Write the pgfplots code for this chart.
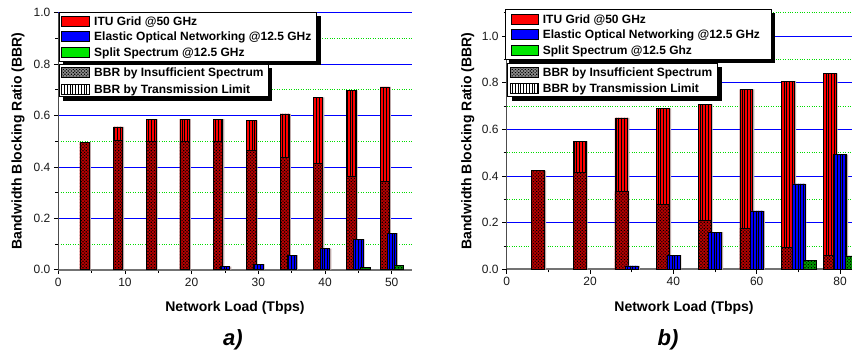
\documentclass[border=0pt]{standalone}
\usepackage{fontspec}
\setmainfont{Liberation Sans}
\usepackage{pgfplots}
\pgfplotsset{compat=1.18}
\usetikzlibrary{patterns,patterns.meta}

\definecolor{gridblue}{RGB}{0,0,255}
\definecolor{gridgreen}{RGB}{0,220,0}
\definecolor{barred}{RGB}{255,0,0}
\definecolor{darkred}{RGB}{185,0,0}
\definecolor{barblue}{RGB}{0,0,255}
\definecolor{bargreen}{RGB}{0,230,0}
\definecolor{darkgreen}{RGB}{0,160,0}
\definecolor{axgray}{RGB}{115,115,115}
\definecolor{shadowc}{RGB}{190,170,170}

\pgfplotsset{
  mystyle/.style={
    scale only axis, anchor=south west, clip=true,
    ymin=0,
    axis x line*=bottom, axis y line*=left,
    x axis line style={axgray, line width=1.8pt},
    y axis line style={black!70, line width=1pt},
    tick align=outside, major tick length=4.5pt, minor tick length=3pt,
    every tick/.style={black, line width=0.8pt},
    ymajorgrids, yminorgrids,
    major grid style={gridblue, line width=0.8pt},
    minor grid style={gridgreen, dotted, line width=0.8pt},
    /pgf/number format/assume math mode=true,
    ticklabel style={font=\fontsize{12}{14}\selectfont, text=black!90},
    yticklabel style={/pgf/number format/fixed, /pgf/number format/fixed zerofill, /pgf/number format/precision=1},
    xticklabel style={/pgf/number format/fixed},
  },
  tlbar/.style={ybar, bar shift=0pt, draw=black, line width=0.6pt, postaction={pattern={Lines[angle=90, distance=2.8pt, line width=0.8pt]}}},
  isbar/.style={ybar, bar shift=0pt, draw=black, line width=0.5pt, postaction={pattern={Dots[angle=45, distance=2.3pt, radius=0.8pt]}}},
  shbar/.style={ybar, bar shift=1.6pt, fill=shadowc, draw=none},
}

\newcommand{\legbox}[4]{%
  \fill[black] (#1+4,354-#4-4) rectangle (#3+4,354-#2-4);
  \filldraw[fill=white, draw=black, line width=0.8pt] (#1,354-#2) rectangle (#3,354-#4);
}
\newcommand{\legpatch}[3]{% x1, yc, style
  \filldraw[#3, draw=black, line width=0.6pt] (#1,354-#2-5) rectangle (#1+27.6,354-#2+5);
}
\newcommand{\legtext}[3]{% x, yc, text
  \node[anchor=base west, inner sep=0pt, font=\bfseries\fontsize{12}{14}\selectfont] at (#1,354-#2-4.3) {#3};
}

\begin{document}
\begin{tikzpicture}
\useasboundingbox (0pt,0pt) rectangle (852pt,354pt);
\clip (0pt,0pt) rectangle (852pt,354pt);

% ---------------- a) ----------------
\begin{axis}[mystyle, at={(58.3pt,84.3pt)}, width=353.4pt, height=257pt,
  xmin=0, xmax=53, ymax=1,
  xtick={0,10,20,30,40,50}, minor xtick={5,15,25,35,45},
  ytick={0,0.2,0.4,0.6,0.8,1.0}, minor ytick={0.1,0.3,0.5,0.7,0.9}]
% shadows
\addplot[shbar, bar width=1.4] coordinates {
 (3.95,0.496) (8.95,0.556) (13.95,0.586) (18.95,0.586) (23.95,0.586)
 (28.95,0.581) (33.95,0.606) (38.95,0.671) (43.95,0.698) (48.95,0.711)};
% ITU grid: total (transmission limit on top) and insufficient spectrum part
\addplot[tlbar, bar width=1.4, fill=barred] coordinates {
 (3.95,0.496) (8.95,0.556) (13.95,0.586) (18.95,0.586) (23.95,0.586)
 (28.95,0.581) (33.95,0.606) (38.95,0.671) (43.95,0.698) (48.95,0.711)};
\addplot[isbar, bar width=1.4, fill=darkred] coordinates {
 (3.95,0.496) (8.95,0.505) (13.95,0.500) (18.95,0.500) (23.95,0.500)
 (28.95,0.463) (33.95,0.437) (38.95,0.414) (43.95,0.365) (48.95,0.345)};
% Elastic optical networking
\addplot[shbar, bar width=1.4] coordinates {
 (25,0.012) (30,0.022) (35,0.057) (40,0.082) (45,0.118) (50,0.142)};
\addplot[tlbar, bar width=1.4, fill=barblue] coordinates {
 (25,0.012) (30,0.022) (35,0.057) (40,0.082) (45,0.118) (50,0.142)};
% Split spectrum
\addplot[isbar, bar width=1.4, fill=darkgreen] coordinates {
 (46.05,0.008) (51.05,0.018)};
\end{axis}

% ---------------- b) ----------------
\begin{axis}[mystyle, at={(506.7pt,84.7pt)}, width=354.2pt, height=256.7pt,
  xmin=0, xmax=85, ymax=1.1,
  xtick={0,20,40,60,80}, minor xtick={10,30,50,70},
  ytick={0,0.2,0.4,0.6,0.8,1.0}, minor ytick={0.1,0.3,0.5,0.7,0.9,1.1}]
\addplot[shbar, bar width=3.1] coordinates {
 (7.5,0.423) (17.5,0.549) (27.5,0.649) (37.5,0.690) (47.5,0.707)
 (57.5,0.771) (67.5,0.806) (77.5,0.840)};
\addplot[tlbar, bar width=3.1, fill=barred] coordinates {
 (7.5,0.423) (17.5,0.549) (27.5,0.649) (37.5,0.690) (47.5,0.707)
 (57.5,0.771) (67.5,0.806) (77.5,0.840)};
\addplot[isbar, bar width=3.1, fill=darkred] coordinates {
 (7.5,0.423) (17.5,0.414) (27.5,0.333) (37.5,0.279) (47.5,0.211)
 (57.5,0.176) (67.5,0.093) (77.5,0.061)};
\addplot[shbar, bar width=3.1] coordinates {
 (30,0.015) (40,0.061) (50,0.159) (60,0.250) (70,0.366) (80,0.491)};
\addplot[tlbar, bar width=3.1, fill=barblue] coordinates {
 (30,0.015) (40,0.061) (50,0.159) (60,0.250) (70,0.366) (80,0.491)};
\addplot[isbar, bar width=3.0, fill=darkgreen] coordinates {
 (72.7,0.037) (82.7,0.057)};
\end{axis}

\begin{scope}[x=1pt,y=1pt]
% ---------------- labels ----------------
\node[rotate=90, font=\bfseries\fontsize{14}{16}\selectfont] at (18,354-141) {Bandwidth Blocking Ratio (BBR)};
\node[rotate=90, font=\bfseries\fontsize{14}{16}\selectfont] at (467.7,354-141) {Bandwidth Blocking Ratio (BBR)};
\node[font=\bfseries\fontsize{14}{16}\selectfont] at (235,354-308) {Network Load (Tbps)};
\node[font=\bfseries\fontsize{14}{16}\selectfont] at (684,354-308) {Network Load (Tbps)};
\node[anchor=base, inner sep=0pt, font=\bfseries\itshape\fontsize{22}{24}\selectfont] at (233,354-345) {a)};
\node[anchor=base, inner sep=0pt, font=\bfseries\itshape\fontsize{22}{24}\selectfont] at (668,354-345) {b)};

% ---------------- legends a) ----------------
\legbox{59.3}{12.3}{316.7}{61}
\legpatch{61.7}{21.7}{fill=barred}
\legpatch{61.7}{36.7}{fill=barblue}
\legpatch{61.7}{52.3}{fill=bargreen}
\legtext{94}{21.7}{ITU Grid @50 GHz}
\legtext{94}{36.7}{Elastic Optical Networking @12.5 GHz}
\legtext{94}{52.3}{Split Spectrum @12.5 GHz}
\legbox{59.3}{64.3}{268.3}{96.7}
\legpatch{61.7}{72.7}{fill=black!45, postaction={pattern={Dots[angle=45, distance=2.3pt, radius=0.8pt]}}}
\legpatch{61.7}{89.3}{fill=white, postaction={pattern={Lines[angle=90, distance=2.8pt, line width=0.8pt]}}}
\legtext{94}{72.7}{BBR by Insufficient Spectrum}
\legtext{94}{89.3}{BBR by Transmission Limit}

% ---------------- legends b) ----------------
\legbox{505}{9}{771}{59}
\legpatch{511}{19.3}{fill=barred}
\legpatch{511}{34.7}{fill=barblue}
\legpatch{511}{50.7}{fill=bargreen}
\legtext{542.7}{19.3}{ITU Grid @50 GHz}
\legtext{542.7}{34.7}{Elastic Optical Networking @12.5 GHz}
\legtext{542.7}{50.7}{Split Spectrum @12.5 Ghz}
\legbox{507.7}{63.3}{717.7}{96.7}
\legpatch{510.5}{72.7}{fill=black!45, postaction={pattern={Dots[angle=45, distance=2.3pt, radius=0.8pt]}}}
\legpatch{510.5}{88.7}{fill=white, postaction={pattern={Lines[angle=90, distance=2.8pt, line width=0.8pt]}}}
\legtext{542.7}{72.7}{BBR by Insufficient Spectrum}
\legtext{542.7}{88.7}{BBR by Transmission Limit}
\end{scope}
\end{tikzpicture}
\end{document}
